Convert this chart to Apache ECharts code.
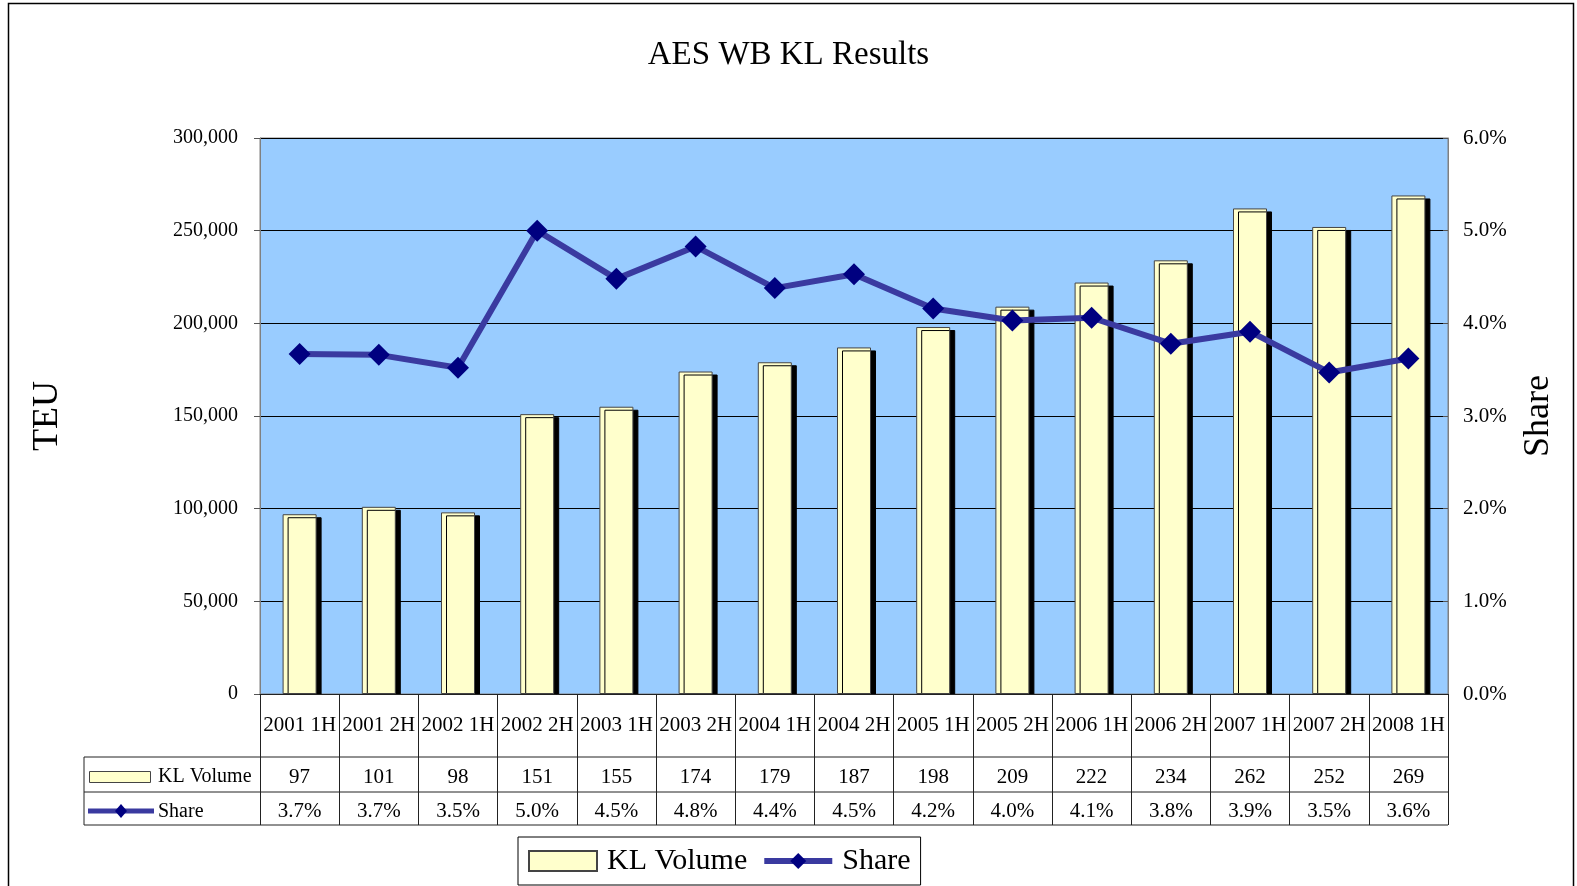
<!DOCTYPE html>
<html>
<head>
<meta charset="utf-8">
<title>AES WB KL Results</title>
<script src="https://cdn.jsdelivr.net/npm/echarts@6/dist/echarts.min.js"></script>
<style>
    html, body { margin: 0; padding: 0; background: #fff; }
    #chart { width: 1577px; height: 886px; }
</style>
</head>
<body>
<div id="chart"></div>
<script>
// half-year periods
const categories = [
    '2001 1H', '2001 2H', '2002 1H', '2002 2H', '2003 1H', '2003 2H', '2004 1H', '2004 2H',
    '2005 1H', '2005 2H', '2006 1H', '2006 2H', '2007 1H', '2007 2H', '2008 1H'
];
// KL volume, thousand TEU (as in the data table)
const volumeK = [97, 101, 98, 151, 155, 174, 179, 187, 198, 209, 222, 234, 262, 252, 269];
// share, percent
const share = [3.67, 3.66, 3.52, 5.0, 4.48, 4.83, 4.38, 4.53, 4.16, 4.03, 4.06, 3.78, 3.91, 3.47, 3.62];

const leftTicks = [0, 50000, 100000, 150000, 200000, 250000, 300000];
const rightTicks = [0, 1, 2, 3, 4, 5, 6];

const FONT = "'Liberation Serif', 'Times New Roman', serif";
const BAR_FILL = '#FFFFCC';
const LINE_COLOR = '#3A3AA0';
const MARK_COLOR = '#000080';

const chart = echarts.init(document.getElementById('chart'));

// plot area edges
const PL = 260, PR = 1448, PT = 138, PB = 694;
// data table rows
const ROW1 = 757, ROW2 = 792, ROW3 = 825, TL = 84;

const tableLine = (x1, y1, x2, y2) => ({
    type: 'line',
    shape: { x1: x1, y1: y1, x2: x2, y2: y2 },
    style: { stroke: '#222', lineWidth: 1 },
    silent: true
});

chart.setOption({
    backgroundColor: '#fff',
    textStyle: { fontFamily: FONT, color: '#000' },
    title: {
        text: 'AES WB KL Results',
        left: 'center',
        top: 34,
        textStyle: { fontFamily: FONT, fontSize: 33, fontWeight: 'normal', color: '#000' }
    },
    legend: {
        data: [
            { name: 'KL Volume', icon: 'rect' },
            { name: 'Share' }
        ],
        left: 518,
        top: 837,
        orient: 'horizontal',
        padding: [5, 10, 5, 10],
        borderColor: '#000',
        borderWidth: 1,
        itemWidth: 68,
        itemHeight: 20,
        itemGap: 14,
        lineStyle: { width: 6 },
        textStyle: { fontFamily: FONT, fontSize: 30, lineHeight: 38, color: '#000', padding: [0, 0, 0, 5] }
    },
    grid: {
        left: PL,
        right: 1577 - PR,
        top: PT,
        bottom: 886 - PB,
        containLabel: false,
        outerBoundsMode: 'none',
        show: true,
        backgroundColor: '#99CCFF',
        borderColor: '#808080',
        borderWidth: 1
    },
    xAxis: [
        {
            // header row + table verticals
            type: 'category',
            data: categories,
            z: 10,
            axisLine: { lineStyle: { color: '#222', width: 1 } },
            axisTick: { show: true, length: ROW3 - PB, lineStyle: { color: '#222' } },
            axisLabel: {
                interval: 0,
                margin: 31,
                verticalAlign: 'middle',
                fontFamily: FONT,
                fontSize: 21,
                color: '#000'
            },
            splitLine: { show: false }
        },
        {
            // volume row
            type: 'category',
            data: categories,
            position: 'bottom',
            axisLine: { show: false },
            axisTick: { show: false },
            axisLabel: {
                interval: 0,
                margin: 83,
                verticalAlign: 'middle',
                fontFamily: FONT,
                fontSize: 21,
                color: '#000',
                formatter: (v, i) => String(volumeK[i])
            }
        },
        {
            // share row
            type: 'category',
            data: categories,
            position: 'bottom',
            axisLine: { show: false },
            axisTick: { show: false },
            axisLabel: {
                interval: 0,
                margin: 117,
                verticalAlign: 'middle',
                fontFamily: FONT,
                fontSize: 21,
                color: '#000',
                formatter: (v, i) => share[i].toFixed(1) + '%'
            }
        }
    ],
    yAxis: [
        {
            type: 'value',
            name: 'TEU',
            nameLocation: 'middle',
            nameRotate: 90,
            nameGap: 194,
            nameTextStyle: { fontFamily: FONT, fontSize: 36, color: '#000' },
            min: leftTicks[0],
            max: leftTicks[leftTicks.length - 1],
            interval: 50000,
            axisLine: { show: true, lineStyle: { color: '#808080' } },
            axisTick: { show: true, length: 6, lineStyle: { color: '#555' } },
            axisLabel: {
                margin: 22,
                fontFamily: FONT,
                fontSize: 20,
                color: '#000',
                formatter: v => v.toLocaleString('en-US')
            },
            splitLine: { show: true, lineStyle: { color: '#000', width: 1 } }
        },
        {
            type: 'value',
            name: 'Share',
            nameLocation: 'middle',
            nameRotate: 90,
            nameGap: 73,
            nameTextStyle: { fontFamily: FONT, fontSize: 36, color: '#000' },
            min: rightTicks[0],
            max: rightTicks[rightTicks.length - 1],
            interval: 1,
            axisLine: { show: true, lineStyle: { color: '#808080' } },
            axisTick: { show: true, inside: true, length: 5, lineStyle: { color: '#555' } },
            axisLabel: {
                margin: 15,
                fontFamily: FONT,
                fontSize: 21,
                color: '#000',
                formatter: v => v.toFixed(1) + '%'
            },
            splitLine: { show: false }
        }
    ],
    series: [
        {
            name: 'KL Volume',
            type: 'bar',
            xAxisIndex: 0,
            yAxisIndex: 0,
            barWidth: 34,
            itemStyle: {
                color: BAR_FILL,
                borderColor: '#444',
                borderWidth: 1,
                shadowColor: '#000',
                shadowBlur: 0,
                shadowOffsetX: 5,
                shadowOffsetY: 3
            },
            emphasis: { disabled: true },
            data: volumeK.map(v => v * 1000)
        },
        {
            name: 'Share',
            type: 'line',
            xAxisIndex: 0,
            yAxisIndex: 1,
            symbol: 'diamond',
            symbolSize: 22,
            lineStyle: { color: LINE_COLOR, width: 6 },
            itemStyle: { color: MARK_COLOR, borderWidth: 0 },
            emphasis: { disabled: true },
            data: share
        }
    ],
    graphic: [
        // outer chart frame
        {
            type: 'rect',
            shape: { x: 8.5, y: 3.5, width: 1565, height: 900 },
            style: { fill: 'none', stroke: '#000', lineWidth: 1.5 },
            silent: true
        },
        // hide bar shadows under the axis
        {
            type: 'rect',
            z: 5,
            shape: { x: PL + 1, y: PB + 1, width: PR - PL - 1, height: 5 },
            style: { fill: '#fff' },
            silent: true
        },
        // data table rules
        tableLine(TL, ROW1, PR, ROW1),
        tableLine(TL, ROW2, PR, ROW2),
        tableLine(TL, ROW3, PR, ROW3),
        tableLine(TL, ROW1, TL, ROW3),
        // row keys
        {
            type: 'rect',
            shape: { x: 89.5, y: 771.5, width: 61, height: 11 },
            style: { fill: BAR_FILL, stroke: '#444', lineWidth: 1 },
            silent: true
        },
        {
            type: 'text',
            x: 158, y: 777,
            style: { text: 'KL Volume', font: '20px ' + FONT, fill: '#000', textVerticalAlign: 'middle', verticalAlign: 'middle' },
            silent: true
        },
        {
            type: 'line',
            shape: { x1: 88, y1: 811, x2: 154, y2: 811 },
            style: { stroke: LINE_COLOR, lineWidth: 5 },
            silent: true
        },
        {
            type: 'polygon',
            shape: { points: [[121, 804], [127, 811], [121, 818], [115, 811]] },
            style: { fill: MARK_COLOR },
            silent: true
        },
        {
            type: 'text',
            x: 158, y: 812,
            style: { text: 'Share', font: '20px ' + FONT, fill: '#000', textVerticalAlign: 'middle', verticalAlign: 'middle' },
            silent: true
        }
    ]
});
</script>
</body>
</html>
